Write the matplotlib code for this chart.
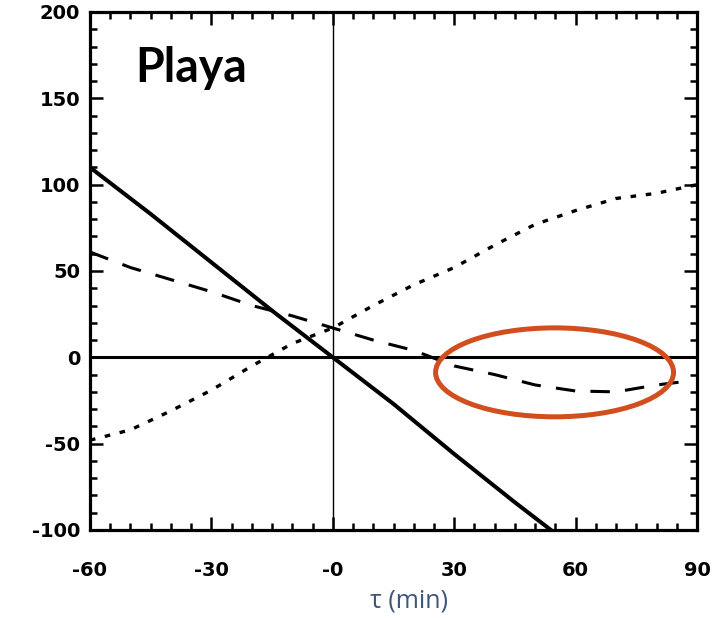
import matplotlib
matplotlib.use('Agg')
import matplotlib.pyplot as plt
from matplotlib.patches import Ellipse
from matplotlib.ticker import MultipleLocator, FixedLocator
import numpy as np

plt.rcParams['lines.scale_dashes'] = False

# lag (min) and correlation-style curves for the Playa site
tau_solid = [-60, -45, -30, -15, 0, 15, 30, 45, 55]
val_solid = [110, 83, 55, 27, 0, -27, -56, -84, -102]

tau_dash = [-60, -50, -40, -30, -20, -10, 0, 10, 20, 30, 40, 50, 60, 70, 80, 87]
val_dash = [61, 52, 45, 38, 30, 24, 17, 10, 4, -5, -10, -16, -19.5, -20, -16, -14]

tau_dot = [-60, -50, -40, -30, -20, -10, 0, 10, 20, 30, 40, 50, 60, 70, 80, 90]
val_dot = [-48, -42, -31, -19, -5, 8, 17, 30, 42, 52, 65, 77, 85, 92, 95, 100]

xticks = [-60, -30, 0, 30, 60, 90]
xtick_labels = ['-60', '-30', '-0', '30', '60', '90']
yticks = [-100, -50, 0, 50, 100, 150, 200]
ytick_labels = ['-100', '-50', '0', '50', '100', '150', '200']

fig = plt.figure(figsize=(7.13, 6.18), dpi=100)
ax = fig.add_axes([0.1262, 0.1424, 0.8514, 0.8382])

ax.axhline(0, color='black', lw=2.2, zorder=1)
ax.axvline(0, color='black', lw=1.0, zorder=1)

ax.plot(tau_solid, val_solid, color='black', lw=2.9)
ax.plot(tau_dash, val_dash, color='black', lw=2.2, dashes=(14, 11))
ax.plot(tau_dot, val_dot, color='black', lw=2.4, dashes=(4, 7))

# highlight the negative dip of the dashed curve
ax.add_patch(Ellipse((54.8, -8.7), 58.8, 51.5, fill=False,
                     edgecolor='#D24E1E', lw=3.6, clip_on=False, zorder=5))

ax.set_xlim(-60, 90)
ax.set_ylim(-100, 200)
ax.xaxis.set_major_locator(FixedLocator(xticks))
ax.set_xticklabels(xtick_labels)
ax.yaxis.set_major_locator(FixedLocator(yticks))
ax.set_yticklabels(ytick_labels)
ax.xaxis.set_minor_locator(MultipleLocator(5))
ax.yaxis.set_minor_locator(MultipleLocator(10))

ax.tick_params(which='both', direction='in', top=True, right=True, width=1.8)
ax.tick_params(which='major', length=9.5)
ax.tick_params(which='minor', length=5)
ax.tick_params(axis='x', which='major', pad=22)
ax.tick_params(axis='y', which='major', pad=7)
for lab in ax.get_xticklabels() + ax.get_yticklabels():
    lab.set_fontweight('bold')
    lab.set_fontsize(14)
    lab.set_family('DejaVu Sans')
for s in ax.spines.values():
    s.set_linewidth(2.3)

fig.text(135 / 713, 1 - 82 / 618, 'Playa', fontsize=33.5, fontweight='bold',
         family='Lato', va='baseline', ha='left')
fig.text(409 / 713, 1 - 601 / 618, 'τ (min)', fontsize=18, color='#3F5577',
         family=['Open Sans', 'DejaVu Sans'], ha='center', va='center')

fig.savefig('out.png', dpi=100)
